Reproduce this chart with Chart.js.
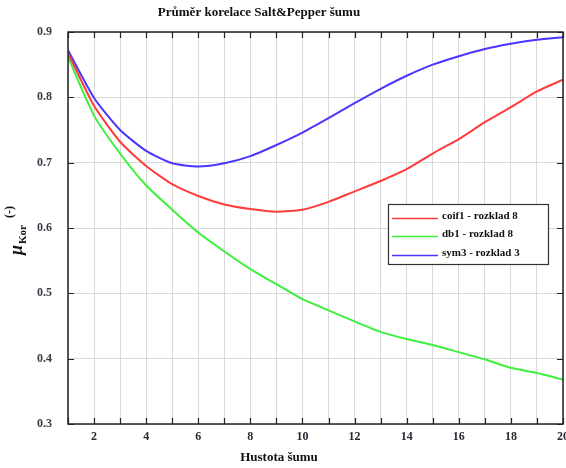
<!DOCTYPE html>
<html>
<head>
<meta charset="utf-8">
<title>Průměr korelace Salt&amp;Pepper šumu</title>
<script src="https://cdn.jsdelivr.net/npm/chart.js@4/dist/chart.umd.min.js"></script>
<style>
  html, body { margin: 0; padding: 0; background: #fff; }
  #wrap { width: 566px; height: 468px; }
</style>
</head>
<body>
<div id="wrap"><canvas id="graf"></canvas></div>
<script>
// hustota šumu 1..20
var hustota = [1, 2, 3, 4, 5, 6, 7, 8, 9, 10, 11, 12, 13, 14, 15, 16, 17, 18, 19, 20];

var coif1 = [0.868, 0.787, 0.732, 0.695, 0.667, 0.649, 0.636, 0.629, 0.625, 0.628,
             0.640, 0.656, 0.672, 0.690, 0.714, 0.736, 0.762, 0.785, 0.809, 0.827];
var db1   = [0.862, 0.772, 0.714, 0.665, 0.628, 0.593, 0.564, 0.537, 0.514, 0.491,
             0.474, 0.457, 0.441, 0.430, 0.421, 0.410, 0.399, 0.386, 0.378, 0.368];
var sym3  = [0.872, 0.799, 0.750, 0.718, 0.699, 0.694, 0.699, 0.710, 0.727, 0.746,
             0.768, 0.791, 0.813, 0.833, 0.850, 0.863, 0.874, 0.882, 0.888, 0.892];

var nazvy = ['coif1 - rozklad 8', 'db1 - rozklad 8', 'sym3 - rozklad 3'];
var barvy = ['#ff3b3b', '#3cf03c', '#4a36ff'];
var yTicks = [0.3, 0.4, 0.5, 0.6, 0.7, 0.8, 0.9];

var SERIF = '"Liberation Serif", "DejaVu Serif", serif';

function body(xs, ys) {
    var out = [];
    for (var i = 0; i < xs.length; i++) out.push({ x: xs[i], y: ys[i] });
    return out;
}

// titulek, popisky os, ramecek a legenda
var popisky = {
    id: 'popisky',
    afterDraw: function (chart) {
        var ctx = chart.ctx;
        var a = chart.chartArea;
        var sx = chart.scales.x, sy = chart.scales.y;
        ctx.save();

        // ramecek a zarazky dovnitr
        ctx.strokeStyle = '#222';
        ctx.lineWidth = 1.5;
        ctx.strokeRect(a.left, a.top, a.right - a.left, a.bottom - a.top);
        ctx.lineWidth = 1.2;
        ctx.beginPath();
        hustota.forEach(function (v) {
            var px = Math.round(sx.getPixelForValue(v)) + 0.5;
            ctx.moveTo(px, a.top); ctx.lineTo(px, a.top + 6);
            ctx.moveTo(px, a.bottom); ctx.lineTo(px, a.bottom - 6);
        });
        yTicks.forEach(function (v) {
            var py = Math.round(sy.getPixelForValue(v)) + 0.5;
            ctx.moveTo(a.left, py); ctx.lineTo(a.left + 6, py);
            ctx.moveTo(a.right, py); ctx.lineTo(a.right - 6, py);
        });
        ctx.stroke();

        // titulek
        ctx.fillStyle = '#111';
        ctx.textAlign = 'center';
        ctx.textBaseline = 'middle';
        ctx.font = 'bold 13px ' + SERIF;
        ctx.fillText('Průměr korelace Salt&Pepper šumu', 259, 13);

        // popisek osy x
        ctx.font = 'bold 13px ' + SERIF;
        ctx.fillText('Hustota šumu', 279, 458);

        // popisek osy y: mu s indexem Kor a jednotkou
        ctx.save();
        ctx.translate(22, 255);
        ctx.rotate(-Math.PI / 2);
        ctx.textAlign = 'left';
        ctx.textBaseline = 'alphabetic';
        ctx.font = 'italic bold 18px ' + SERIF;
        ctx.fillText('μ', 0, 0);
        var w = ctx.measureText('μ').width;
        ctx.font = 'bold 11px ' + SERIF;
        ctx.fillText('Kor', w + 1, 4);
        var w2 = ctx.measureText('Kor').width;
        ctx.font = 'bold 12px ' + SERIF;
        ctx.fillText('(-)', w + w2 + 8, -9);
        ctx.restore();

        // legenda
        var lx = 388, ly = 204, lw = 160, lh = 60;
        ctx.fillStyle = '#fff';
        ctx.fillRect(lx, ly, lw, lh);
        ctx.strokeStyle = '#333';
        ctx.lineWidth = 1.2;
        ctx.strokeRect(lx + 0.5, ly + 0.5, lw, lh);
        var radky = [216, 234, 253];
        ctx.font = 'bold 11px ' + SERIF;
        ctx.textAlign = 'left';
        ctx.textBaseline = 'middle';
        chart.data.datasets.forEach(function (ds, i) {
            ctx.strokeStyle = ds.borderColor;
            ctx.lineWidth = 1.6;
            ctx.beginPath();
            ctx.moveTo(392, radky[i] + 2.5);
            ctx.lineTo(438, radky[i] + 2.5);
            ctx.stroke();
            ctx.fillStyle = '#111';
            ctx.fillText(ds.label, 442, radky[i]);
        });
        ctx.restore();
    }
};

var ctx = document.getElementById('graf').getContext('2d');
var chart = new Chart(ctx, {
    type: 'line',
    data: {
        datasets: [coif1, db1, sym3].map(function (s, i) {
            return {
                label: nazvy[i],
                data: body(hustota, s),
                borderColor: barvy[i],
                borderWidth: 2,
                pointRadius: 0,
                tension: 0.2,
                fill: false
            };
        })
    },
    options: {
        responsive: true,
        maintainAspectRatio: false,
        animation: false,
        layout: { padding: { top: 32, right: 3, left: 0, bottom: 0 } },
        plugins: {
            legend: { display: false },
            title: { display: false },
            tooltip: { enabled: false }
        },
        scales: {
            x: {
                type: 'linear',
                min: 1,
                max: 20,
                afterFit: function (s) {
                    s.height = 44;
                    s.paddingLeft = 0;
                    s.paddingRight = 0;
                },
                afterBuildTicks: function (s) {
                    s.ticks = hustota.map(function (v) { return { value: v }; });
                },
                border: { display: false },
                grid: { color: '#d9d9d9', lineWidth: 1, drawTicks: false },
                ticks: {
                    autoSkip: false,
                    maxRotation: 0,
                    padding: 6,
                    color: '#2a2a35',
                    font: { family: SERIF, size: 12, weight: 'bold' },
                    callback: function (v) { return v % 2 === 0 ? String(v) : ''; }
                }
            },
            y: {
                min: 0.3,
                max: 0.9,
                afterFit: function (s) {
                    s.width = 68;
                    s.paddingTop = 0;
                    s.paddingBottom = 0;
                },
                afterBuildTicks: function (s) {
                    s.ticks = yTicks.map(function (v) { return { value: v }; });
                },
                border: { display: false },
                grid: { color: '#d9d9d9', lineWidth: 1, drawTicks: false },
                ticks: {
                    padding: 16,
                    color: '#3a3a48',
                    font: { family: SERIF, size: 12, weight: 'bold' },
                    callback: function (v) { return v.toFixed(1); }
                }
            }
        }
    },
    plugins: [popisky]
});
</script>
</body>
</html>
